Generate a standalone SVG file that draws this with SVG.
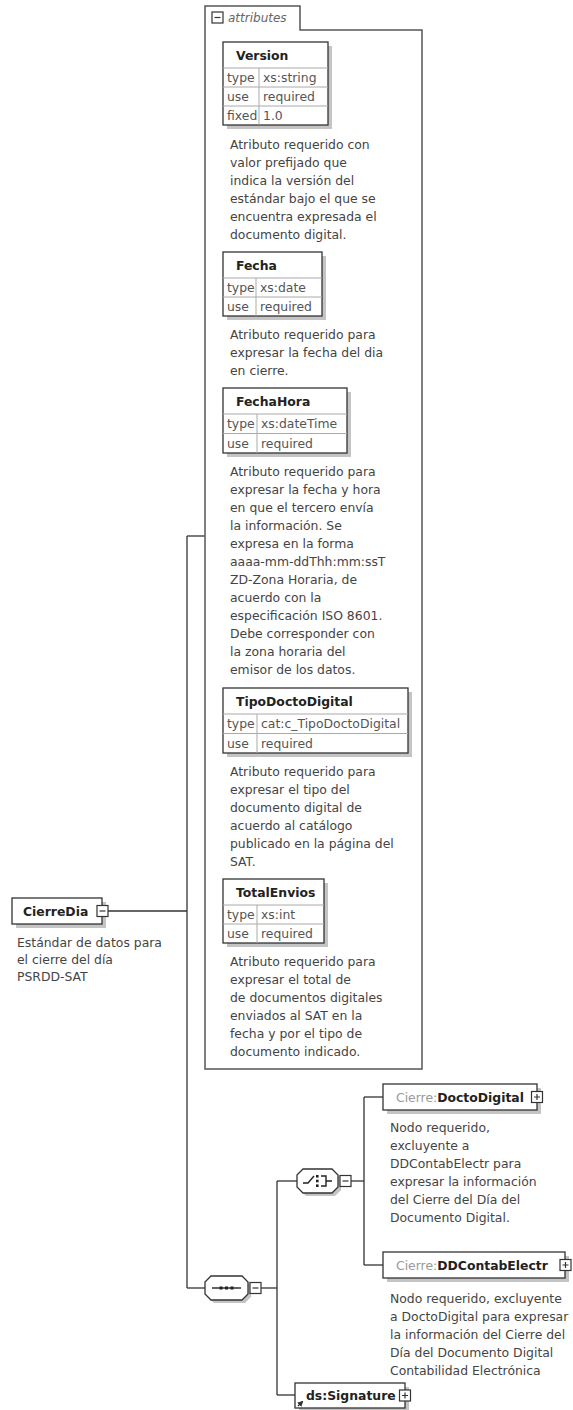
<svg xmlns="http://www.w3.org/2000/svg" width="573" height="1410" viewBox="0 0 573 1410">
<style>
.bg{fill:#fff}
.frame{fill:none;stroke:#555;stroke-width:1.5}
.box{fill:#fff;stroke:#333;stroke-width:1.3}
.sh{fill:#c4c4c4}
.grid{stroke:#aaa;stroke-width:1}
.conn{fill:none;stroke:#333;stroke-width:1.3}
.t{font-family:"DejaVu Sans",sans-serif;font-size:12.4px;fill:#444}
.c{font-family:"DejaVu Sans",sans-serif;font-size:12.4px;fill:#555}
.b{font-family:"DejaVu Sans",sans-serif;font-size:12.4px;font-weight:bold;fill:#222}
.g{font-weight:normal;fill:#999}
.it{font-family:"DejaVu Sans",sans-serif;font-size:12px;font-style:italic;fill:#666}
.pm{fill:#fff;stroke:#333;stroke-width:1.2}
.pl{stroke:#333;stroke-width:1.2}
.ic{fill:none;stroke:#222;stroke-width:1.4}
</style>
<defs>
<marker id="ar" markerWidth="5" markerHeight="5" refX="4" refY="2.5" orient="auto"><path d="M0,0 L5,2.5 L0,5 Z" fill="#333"/></marker>
</defs>
<rect class="bg" x="0" y="0" width="573" height="1410"/>

<g id="connectors">
<path class="conn" d="M107,911 H187"/>
<path class="conn" d="M187,536 V1288"/>
<path class="conn" d="M187,536 H205"/>
<path class="conn" d="M187,1288 H205"/>
<path class="conn" d="M261,1288 H277"/>
<path class="conn" d="M277,1181 V1395"/>
<path class="conn" d="M277,1181 H297"/>
<path class="conn" d="M277,1395 H295"/>
<path class="conn" d="M351,1181 H364"/>
<path class="conn" d="M364,1097 V1265"/>
<path class="conn" d="M364,1097 H383"/>
<path class="conn" d="M364,1265 H383"/>
</g>

<g id="attributes">
<path class="frame" d="M205,1069 V6 H300 V30 H422 V1069 Z"/>
<rect class="pm" x="212" y="12" width="11" height="11"/>
<path class="pl" d="M214.5,17.5 H220.5"/>
<text class="it" x="228" y="22">attributes</text>
</g>

<g id="attr-Version">
<rect class="sh" x="227" y="46" width="105" height="83"/>
<rect class="box" x="223" y="42" width="105" height="83"/>
<path class="grid" d="M223,68 H328 M223,87 H328 M223,106 H328 M259,68 V125"/>
<text class="b" x="236" y="60">Version</text>
<text class="c" x="227" y="81.5">type</text><text class="c" x="263" y="81.5">xs:string</text>
<text class="c" x="227" y="100.5">use</text><text class="c" x="263" y="100.5">required</text>
<text class="c" x="227" y="119.5">fixed</text><text class="c" x="263" y="119.5">1.0</text>
<text class="t" x="230" y="149">Atributo requerido con</text>
<text class="t" x="230" y="167">valor prefijado que</text>
<text class="t" x="230" y="185">indica la versión del</text>
<text class="t" x="230" y="203">estándar bajo el que se</text>
<text class="t" x="230" y="221">encuentra expresada el</text>
<text class="t" x="230" y="239">documento digital.</text>
</g>

<g id="attr-Fecha">
<rect class="sh" x="227" y="256" width="99" height="64"/>
<rect class="box" x="223" y="252" width="99" height="64"/>
<path class="grid" d="M223,278 H322 M223,297 H322 M256,278 V316"/>
<text class="b" x="236" y="270">Fecha</text>
<text class="c" x="227" y="291.5">type</text><text class="c" x="260" y="291.5">xs:date</text>
<text class="c" x="227" y="310.5">use</text><text class="c" x="260" y="310.5">required</text>
<text class="t" x="230" y="339">Atributo requerido para</text>
<text class="t" x="230" y="357">expresar la fecha del dia</text>
<text class="t" x="230" y="375">en cierre.</text>
</g>

<g id="attr-FechaHora">
<rect class="sh" x="227" y="392" width="124" height="65"/>
<rect class="box" x="223" y="388" width="124" height="65"/>
<path class="grid" d="M223,414 H347 M223,433.5 H347 M257,414 V453"/>
<text class="b" x="236" y="406">FechaHora</text>
<text class="c" x="227" y="428">type</text><text class="c" x="261" y="428">xs:dateTime</text>
<text class="c" x="227" y="447.5">use</text><text class="c" x="261" y="447.5">required</text>
<text class="t" x="230" y="476">Atributo requerido para</text>
<text class="t" x="230" y="494">expresar la fecha y hora</text>
<text class="t" x="230" y="512">en que el tercero envía</text>
<text class="t" x="230" y="530">la información. Se</text>
<text class="t" x="230" y="548">expresa en la forma</text>
<text class="t" x="230" y="566">aaaa-mm-ddThh:mm:ssT</text>
<text class="t" x="230" y="584">ZD-Zona Horaria, de</text>
<text class="t" x="230" y="602">acuerdo con la</text>
<text class="t" x="230" y="620">especificación ISO 8601.</text>
<text class="t" x="230" y="638">Debe corresponder con</text>
<text class="t" x="230" y="656">la zona horaria del</text>
<text class="t" x="230" y="674">emisor de los datos.</text>
</g>

<g id="attr-TipoDoctoDigital">
<rect class="sh" x="227" y="692" width="185" height="65"/>
<rect class="box" x="223" y="688" width="185" height="65"/>
<path class="grid" d="M223,714 H408 M223,733.5 H408 M257,714 V753"/>
<text class="b" x="236" y="706">TipoDoctoDigital</text>
<text class="c" x="227" y="728">type</text><text class="c" x="261" y="728">cat:c_TipoDoctoDigital</text>
<text class="c" x="227" y="747.5">use</text><text class="c" x="261" y="747.5">required</text>
<text class="t" x="230" y="776">Atributo requerido para</text>
<text class="t" x="230" y="794">expresar el tipo del</text>
<text class="t" x="230" y="812">documento digital de</text>
<text class="t" x="230" y="830">acuerdo al catálogo</text>
<text class="t" x="230" y="848">publicado en la página del</text>
<text class="t" x="230" y="866">SAT.</text>
</g>

<g id="attr-TotalEnvios">
<rect class="sh" x="227" y="883" width="101" height="64"/>
<rect class="box" x="223" y="879" width="101" height="64"/>
<path class="grid" d="M223,905 H324 M223,924 H324 M257,905 V943"/>
<text class="b" x="236" y="897">TotalEnvios</text>
<text class="c" x="227" y="918.5">type</text><text class="c" x="261" y="918.5">xs:int</text>
<text class="c" x="227" y="937.5">use</text><text class="c" x="261" y="937.5">required</text>
<text class="t" x="230" y="966">Atributo requerido para</text>
<text class="t" x="230" y="984">expresar el total de</text>
<text class="t" x="230" y="1002">de documentos digitales</text>
<text class="t" x="230" y="1020">enviados al SAT en la</text>
<text class="t" x="230" y="1038">fecha y por el tipo de</text>
<text class="t" x="230" y="1056">documento indicado.</text>
</g>

<g id="CierreDia">
<rect class="sh" x="16" y="902" width="90" height="26"/>
<rect class="box" x="12" y="898" width="90" height="26"/>
<text class="b" x="23" y="915.5">CierreDia</text>
<rect class="pm" x="97" y="905.5" width="11" height="11"/>
<path class="pl" d="M99.5,911 H105.5"/>
<text class="t" x="17" y="947">Estándar de datos para</text>
<text class="t" x="17" y="964">el cierre del día</text>
<text class="t" x="17" y="981">PSRDD-SAT</text>
</g>

<g id="sequence">
<path class="sh" d="M214,1279 H245 L251,1285 V1297 L245,1303 H214 L208,1297 V1285 Z"/>
<path class="box" d="M211,1276 H242 L248,1282 V1294 L242,1300 H211 L205,1294 V1282 Z"/>
<path class="ic" d="M212,1288 H241"/>
<rect x="219.5" y="1286.5" width="3" height="3" fill="#222"/>
<rect x="225" y="1286.5" width="3" height="3" fill="#222"/>
<rect x="230.5" y="1286.5" width="3" height="3" fill="#222"/>
<rect class="pm" x="250" y="1282.5" width="11" height="11"/>
<path class="pl" d="M252.5,1288 H258.5"/>
</g>

<g id="choice">
<path class="sh" d="M306,1172 H335 L341,1178 V1190 L335,1196 H306 L300,1190 V1178 Z"/>
<path class="box" d="M303,1169 H332 L338,1175 V1187 L332,1193 H303 L297,1187 V1175 Z"/>
<path class="ic" d="M303,1183 H308 L314,1176"/>
<rect x="316" y="1175" width="2.6" height="2.6" fill="#222"/>
<rect x="316" y="1179.7" width="2.6" height="2.6" fill="#222"/>
<rect x="316" y="1184.4" width="2.6" height="2.6" fill="#222"/>
<path class="ic" d="M321,1176 H326 V1186 H321 M326,1181 H332"/>
<rect class="pm" x="340" y="1175.5" width="11" height="11"/>
<path class="pl" d="M342.5,1181 H348.5"/>
</g>

<g id="DoctoDigital">
<rect class="sh" x="387" y="1088" width="154" height="26"/>
<rect class="box" x="383" y="1084" width="154" height="26"/>
<text class="b" x="396" y="1101.5"><tspan class="g">Cierre:</tspan>DoctoDigital</text>
<rect class="pm" x="531.5" y="1091.5" width="11" height="11"/>
<path class="pl" d="M534,1097 H540 M537,1094 V1100"/>
<text class="t" x="390" y="1132">Nodo requerido,</text>
<text class="t" x="390" y="1150">excluyente a</text>
<text class="t" x="390" y="1168">DDContabElectr para</text>
<text class="t" x="390" y="1186">expresar la información</text>
<text class="t" x="390" y="1204">del Cierre del Día del</text>
<text class="t" x="390" y="1222">Documento Digital.</text>
</g>

<g id="DDContabElectr">
<rect class="sh" x="387" y="1256" width="182" height="26"/>
<rect class="box" x="383" y="1252" width="182" height="26"/>
<text class="b" x="396" y="1269.5"><tspan class="g">Cierre:</tspan>DDContabElectr</text>
<rect class="pm" x="560" y="1259.5" width="11" height="11"/>
<path class="pl" d="M562.5,1265 H568.5 M565.5,1262 V1268"/>
<text class="t" x="390" y="1303">Nodo requerido, excluyente</text>
<text class="t" x="390" y="1321">a DoctoDigital para expresar</text>
<text class="t" x="390" y="1339">la información del Cierre del</text>
<text class="t" x="390" y="1357">Día del Documento Digital</text>
<text class="t" x="390" y="1375">Contabilidad Electrónica</text>
</g>

<g id="Signature">
<rect class="sh" x="299" y="1387" width="110" height="25"/>
<rect class="box" x="295" y="1383" width="110" height="25"/>
<text class="b" x="306" y="1400">ds:Signature</text>
<path d="M298,1406 L302.5,1401.5" stroke="#222" stroke-width="1.2" marker-end="url(#ar)"/>
<rect class="pm" x="399.5" y="1390" width="11" height="11"/>
<path class="pl" d="M402,1395.5 H408 M405,1392.5 V1398.5"/>
</g>
</svg>
